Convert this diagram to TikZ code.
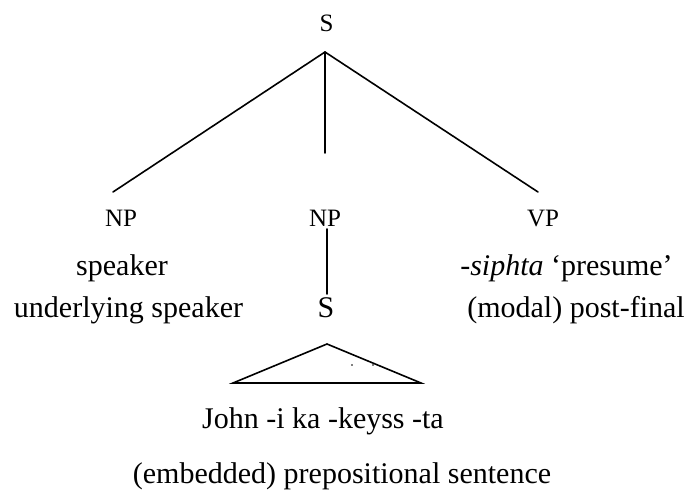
\documentclass[tikz,border=0pt]{standalone}
\usepackage{fontspec}
\setmainfont{Liberation Serif}
\begin{document}
\begin{tikzpicture}[x=1pt,y=-1pt,
  branch/.style={line width=1.6pt,line cap=round},
  cat/.style={inner sep=0pt,anchor=base,font=\fontsize{25}{25}\selectfont},
  gloss/.style={inner sep=0pt,anchor=base,font=\fontsize{30}{30}\selectfont}]
\useasboundingbox (0,0) rectangle (690,494);

% category labels
\node[cat] (Stop) at (326.5,32) {S};
\node[cat] (NPa) at (121,226) {NP};
\node[cat] (NPb) at (325,226) {NP};
\node[cat] (VP) at (543,226) {VP};

% glosses
\node[gloss] (spk) at (122,275) {speaker};
\node[gloss] (uspk) at (128.5,317) {underlying speaker};
\node[gloss] (Semb) at (326,317) {S};
\node[gloss] (siph) at (566.5,275) {\textit{-siphta} `presume'};
\node[gloss] (modal) at (576,317) {(modal) post-final};
\node[gloss] (john) at (323,428) {John -i ka -keyss -ta};
\node[gloss] (emb) at (342,483) {(embedded) prepositional sentence};

% branch points
\coordinate (apex) at (325,52);
\coordinate (endL) at (113,192);
\coordinate (endM) at (325,153);
\coordinate (endR) at (538,192);
\coordinate (npTop) at (327,229);
\coordinate (npBot) at (327,294);
\coordinate (triTop) at (327,344);
\coordinate (triL) at (233,383);
\coordinate (triR) at (421,383);

\draw[branch] (endL) -- (apex) -- (endR);
\draw[branch] (apex) -- (endM);
\draw[branch] (npTop) -- (npBot);
\draw[branch,line join=miter] (triTop) -- (triR) -- (triL) -- cycle;

% stray dots inside the triangle
\fill (352,365) circle (0.8);
\fill (373,365) circle (0.8);
\end{tikzpicture}
\end{document}
